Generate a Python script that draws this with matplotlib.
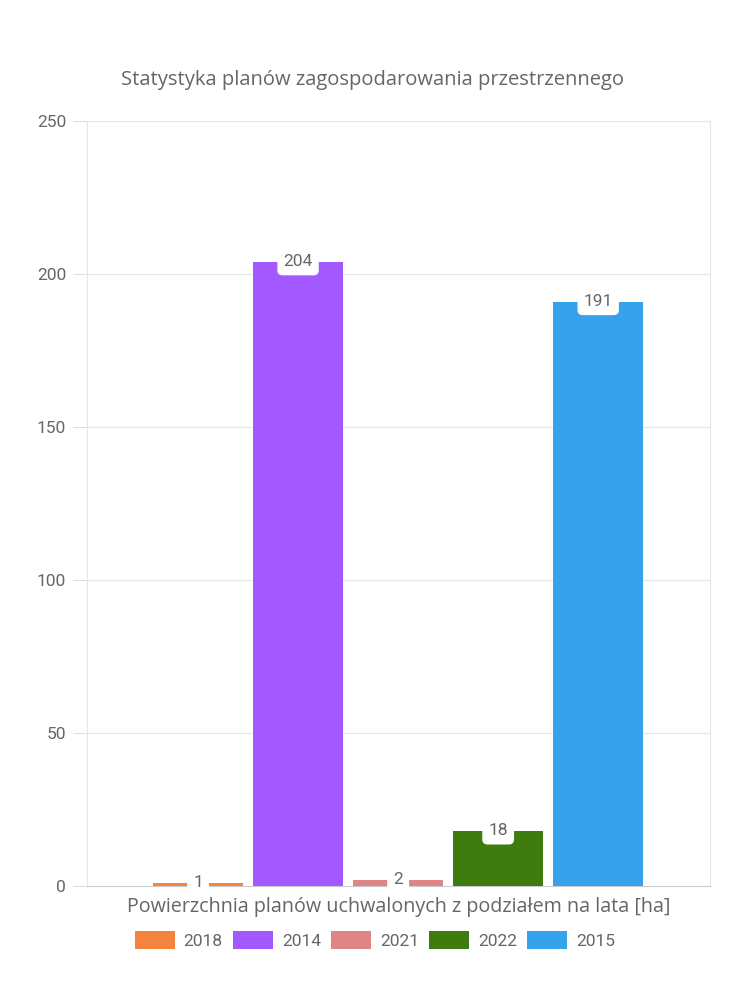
import numpy as np
import matplotlib.pyplot as plt
from matplotlib.patches import Patch

lata = ['2018', '2014', '2021', '2022', '2015']
powierzchnia = [1, 204, 2, 18, 191]
kolory = ['#F5843F', '#A259FF', '#E08585', '#3E7C0F', '#36A2EB']
yticks = [0, 50, 100, 150, 200, 250]

plt.rcParams['font.family'] = ['Roboto', 'DejaVu Sans']
grey = '#666666'

fig = plt.figure(figsize=(7.5, 10), dpi=100)
ax = fig.add_axes([0.116, 0.114, 0.831, 0.765])

x = np.arange(len(lata))
bars = ax.bar(x, powierzchnia, width=0.9, color=kolory, zorder=3)
for b, v in zip(bars, powierzchnia):
    ax.text(b.get_x() + b.get_width() / 2, v, str(v), ha='center', va='center',
            fontsize=12.5, color=grey, zorder=5,
            bbox=dict(boxstyle='round,pad=0.35,rounding_size=0.3', fc='white', ec='none'))

ax.set_xlim(-1.11, 5.12)
ax.set_ylim(0, 250)
ax.set_yticks(yticks)
ax.set_xticks([])
ax.tick_params(axis='y', length=10, color='#dddddd', labelsize=12.5, labelcolor=grey, pad=5)
ax.grid(axis='y', color='#e6e6e6', linewidth=0.8, zorder=0)
for s in ['top', 'right', 'left']:
    ax.spines[s].set_color('#e6e6e6')
ax.spines['bottom'].set_color('#cccccc')

fig.text(0.497, 0.920, 'Statystyka planów zagospodarowania przestrzennego', fontsize=14.5,
         color=grey, ha='center', va='center', fontfamily=['Open Sans', 'DejaVu Sans'])
ax.set_xlabel('Powierzchnia planów uchwalonych z podziałem na lata [ha]', fontsize=14.2,
              color=grey, labelpad=8, fontfamily=['Open Sans', 'DejaVu Sans'])

handles = [Patch(facecolor=c, label=l) for c, l in zip(kolory, lata)]
fig.legend(handles=handles, loc='center', bbox_to_anchor=(0.5, 0.06), ncol=5,
           frameon=False, fontsize=12.5, labelcolor=grey, handlelength=2.3,
           handleheight=1.2, columnspacing=0.6, handletextpad=0.5)

fig.savefig('out.png', dpi=100)
